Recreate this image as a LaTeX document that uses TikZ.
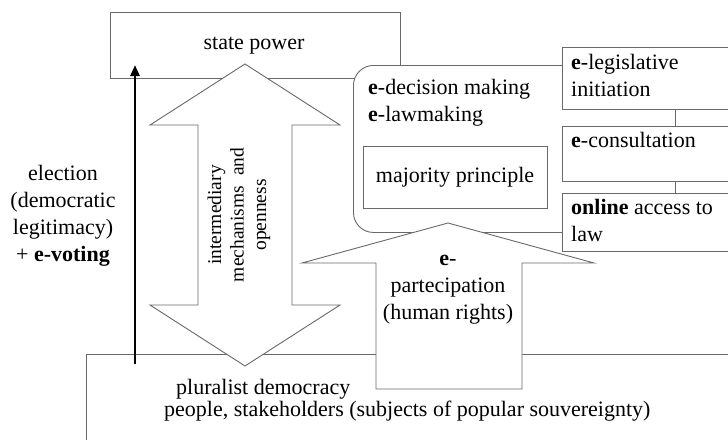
\documentclass[tikz,border=0pt]{standalone}
\usepackage{fontspec}
\setmainfont{Liberation Serif}
\usetikzlibrary{arrows.meta}
\definecolor{linegray}{RGB}{105,105,105}
\begin{document}
\begin{tikzpicture}[x=1pt,y=-1pt,
  box/.style={draw=linegray, line width=0.9pt, fill=white, inner sep=0pt},
  blockarrow/.style={draw=linegray, line width=0.9pt, fill=white},
  txt/.style={font=\fontsize{22}{27}\selectfont, inner sep=0pt, text=black},
  vtxt/.style={font=\fontsize{19.5}{22.5}\selectfont, inner sep=0pt, text=black},
  conn/.style={draw=linegray, line width=0.9pt}]
\clip (0,0) rectangle (728,439);
\fill[white] (0,0) rectangle (728,439);

% state power
\node[box, anchor=north west, minimum width=290, minimum height=66] (state) at (110,12) {};
\node[txt] (statetxt) at (254,46) {state power};

% rounded decision box
\node[box, rounded corners=20pt, anchor=north west, minimum width=420, minimum height=167] (decision) at (353,65) {};
\node[txt, anchor=north west, align=left] (dectxt) at (368,79) {\textbf{e}-decision making\\\textbf{e}-lawmaking};
\node[box, anchor=north west, minimum width=184, minimum height=62] (majority) at (363,146) {};
\node[txt] (majtxt) at (455,177) {majority principle};

% right boxes
\coordinate (cx) at (675,0);
\node[box, anchor=north west, minimum width=200, minimum height=62] (leg) at (562,47) {};
\node[box, anchor=north west, minimum width=200, minimum height=55] (cons) at (562,126) {};
\node[box, anchor=north west, minimum width=200, minimum height=58] (online) at (562,193) {};
\draw[conn] (leg.south -| cx) -- (cons.north -| cx);
\draw[conn] (cons.south -| cx) -- (online.north -| cx);
\node[txt, anchor=north west, align=left] (legtxt) at (571,54) {\textbf{e}-legislative\\initiation};
\node[txt, anchor=north west, align=left] (constxt) at (571,132) {\textbf{e}-consultation};
\node[txt, anchor=north west, align=left] (onltxt) at (571,199) {\textbf{online} access to\\law};

% bottom box
\node[box, anchor=north west, minimum width=700, minimum height=120] (people) at (86,354) {};
\node[txt, anchor=west] (plural) at (176,389) {pluralist democracy};
\node[txt, anchor=west] (peopletxt) at (164,411) {people, stakeholders (subjects of popular souvereignty)};

% double arrow
\draw[blockarrow] (245,64) -- (340,125) -- (292,125) -- (292,305) -- (340,305)
  -- (245,366) -- (150,305) -- (198,305) -- (198,125) -- (150,125) -- cycle;
\node[vtxt, rotate=90, align=center] (inter) at (239,215) {intermediary\\mechanisms\enspace and\\openness};

% e-participation arrow
\draw[blockarrow] (448,223) -- (594,263) -- (522,263) -- (522,389) -- (376,389)
  -- (376,263) -- (302,263) -- cycle;
\node[txt, align=center] (epart) at (448,290) {\textbf{e}-\\partecipation\\(human rights)};

% election text and arrow
\node[txt, align=center] (elect) at (63,216) {election\\(democratic\\legitimacy)\\+ \textbf{e-voting}};
\coordinate (ea) at (135,364);
\coordinate (eb) at (135,65);
\draw[line width=2.6pt, -{Triangle[length=11pt,width=9pt]}] (ea) -- (eb);
\end{tikzpicture}
\end{document}
